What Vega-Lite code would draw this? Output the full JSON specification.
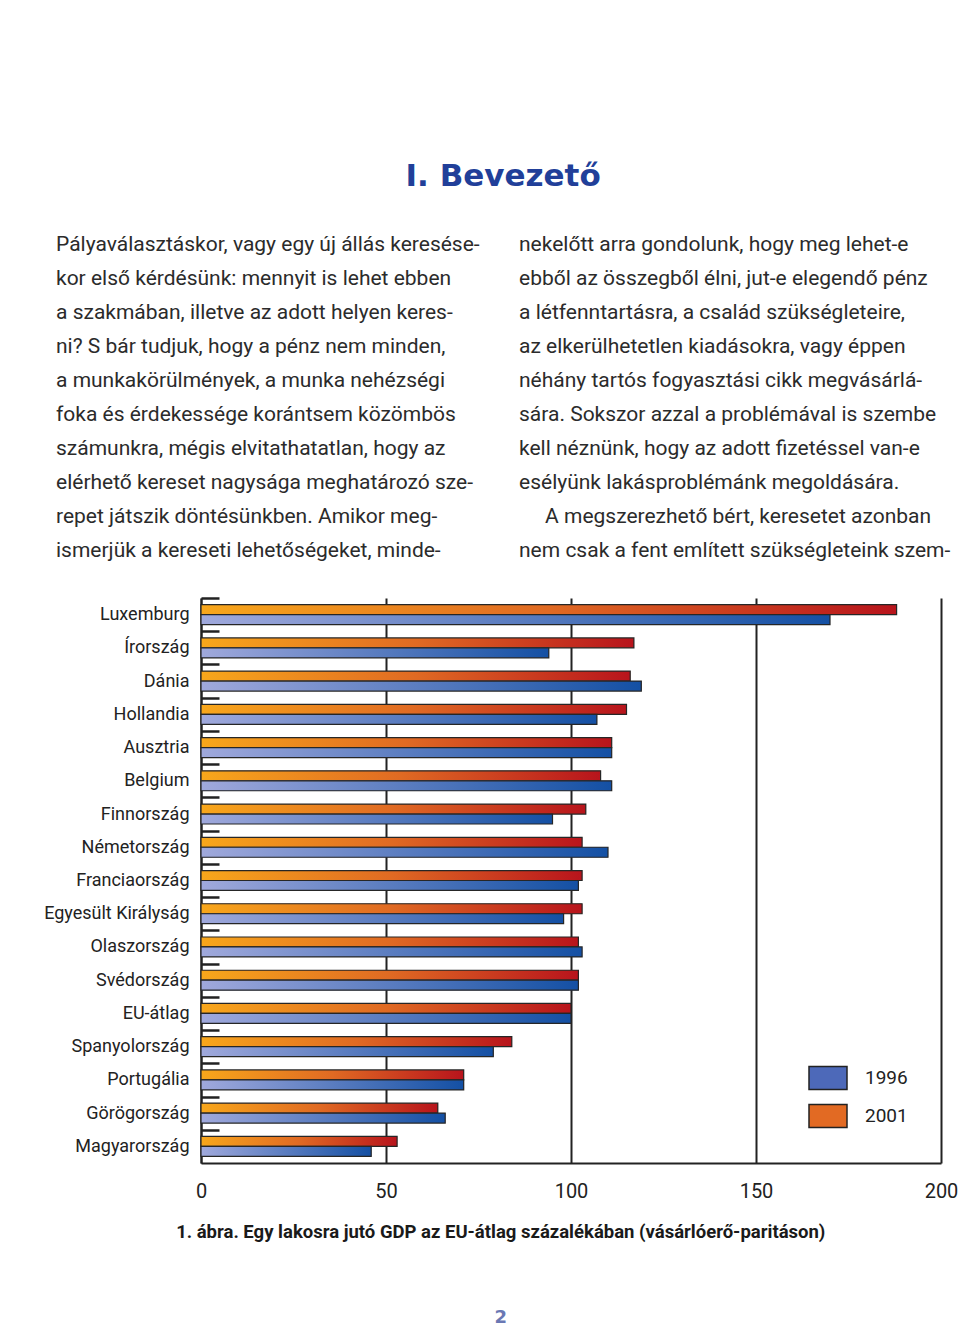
{
  "$schema": "https://vega.github.io/schema/vega-lite/v6.json",
  "background": "white",
  "padding": {"left": 43, "top": 161, "right": 0, "bottom": 0},
  "title": {"text": "2", "orient": "bottom", "anchor": "middle", "frame": "bounds", "baseline": "middle", "offset": 76, "font": "DejaVu Sans", "fontWeight": "bold", "fontSize": 18, "color": "#6a78b4"},
  "columns": 1,
  "align": "none",
  "spacing": 28,
  "concat": [
    {
      "width": 745,
      "height": 340,
      "title": {"text": "I. Bevezető", "anchor": "middle", "frame": "bounds", "baseline": "alphabetic", "offset": 11, "font": "DejaVu Sans", "fontWeight": "bold", "fontSize": 31, "color": "#213f99"},
      "data": {"values": [
        {"col": "L", "line": 1, "text": "Pályaválasztáskor, vagy egy új állás keresése-"},
        {"col": "L", "line": 2, "text": "kor első kérdésünk: mennyit is lehet ebben"},
        {"col": "L", "line": 3, "text": "a szakmában, illetve az adott helyen keres-"},
        {"col": "L", "line": 4, "text": "ni? S bár tudjuk, hogy a pénz nem minden,"},
        {"col": "L", "line": 5, "text": "a munkakörülmények, a munka nehézségi"},
        {"col": "L", "line": 6, "text": "foka és érdekessége korántsem közömbös"},
        {"col": "L", "line": 7, "text": "számunkra, mégis elvitathatatlan, hogy az"},
        {"col": "L", "line": 8, "text": "elérhető kereset nagysága meghatározó sze-"},
        {"col": "L", "line": 9, "text": "repet játszik döntésünkben. Amikor meg-"},
        {"col": "L", "line": 10, "text": "ismerjük a kereseti lehetőségeket, minde-"},
        {"col": "R", "line": 1, "text": "nekelőtt arra gondolunk, hogy meg lehet-e"},
        {"col": "R", "line": 2, "text": "ebből az összegből élni, jut-e elegendő pénz"},
        {"col": "R", "line": 3, "text": "a létfenntartásra, a család szükségleteire,"},
        {"col": "R", "line": 4, "text": "az elkerülhetetlen kiadásokra, vagy éppen"},
        {"col": "R", "line": 5, "text": "néhány tartós fogyasztási cikk megvásárlá-"},
        {"col": "R", "line": 6, "text": "sára. Sokszor azzal a problémával is szembe"},
        {"col": "R", "line": 7, "text": "kell néznünk, hogy az adott fizetéssel van-e"},
        {"col": "R", "line": 8, "text": "esélyünk lakásproblémánk megoldására."},
        {"col": "R", "line": 9, "text": "\u200b\u00a0\u00a0\u00a0\u00a0\u00a0A megszerezhető bért, keresetet azonban"},
        {"col": "R", "line": 10, "text": "nem csak a fent említett szükségleteink szem-"}
      ]},
      "mark": {"type": "text", "align": "left", "baseline": "middle", "dx": -145, "fontSize": 21, "font": "Roboto", "color": "#2b2b2b"},
      "encoding": {
        "x": {"field": "col", "type": "nominal", "bandPosition": 0, "scale": {"type": "band", "paddingInner": 0.391, "paddingOuter": 0}, "axis": null},
        "y": {"field": "line", "type": "ordinal", "scale": {"type": "band", "paddingInner": 0, "paddingOuter": 0}, "axis": null},
        "text": {"field": "text"}
      }
    },
    {
      "width": 740,
      "height": 565,
      "title": {"text": "1. ábra. Egy lakosra jutó GDP az EU-átlag százalékában (vásárlóerő-paritáson)", "orient": "bottom", "anchor": "middle", "frame": "bounds", "baseline": "middle", "offset": 31, "font": "Roboto", "fontWeight": "bold", "fontSize": 18.5, "color": "#1a1a1a"},
      "data": {"values": [
        {"country": "Luxemburg", "year": "2001", "value": 188},
        {"country": "Luxemburg", "year": "1996", "value": 170},
        {"country": "Írország", "year": "2001", "value": 117},
        {"country": "Írország", "year": "1996", "value": 94},
        {"country": "Dánia", "year": "2001", "value": 116},
        {"country": "Dánia", "year": "1996", "value": 119},
        {"country": "Hollandia", "year": "2001", "value": 115},
        {"country": "Hollandia", "year": "1996", "value": 107},
        {"country": "Ausztria", "year": "2001", "value": 111},
        {"country": "Ausztria", "year": "1996", "value": 111},
        {"country": "Belgium", "year": "2001", "value": 108},
        {"country": "Belgium", "year": "1996", "value": 111},
        {"country": "Finnország", "year": "2001", "value": 104},
        {"country": "Finnország", "year": "1996", "value": 95},
        {"country": "Németország", "year": "2001", "value": 103},
        {"country": "Németország", "year": "1996", "value": 110},
        {"country": "Franciaország", "year": "2001", "value": 103},
        {"country": "Franciaország", "year": "1996", "value": 102},
        {"country": "Egyesült Királyság", "year": "2001", "value": 103},
        {"country": "Egyesült Királyság", "year": "1996", "value": 98},
        {"country": "Olaszország", "year": "2001", "value": 102},
        {"country": "Olaszország", "year": "1996", "value": 103},
        {"country": "Svédország", "year": "2001", "value": 102},
        {"country": "Svédország", "year": "1996", "value": 102},
        {"country": "EU-átlag", "year": "2001", "value": 100},
        {"country": "EU-átlag", "year": "1996", "value": 100},
        {"country": "Spanyolország", "year": "2001", "value": 84},
        {"country": "Spanyolország", "year": "1996", "value": 79},
        {"country": "Portugália", "year": "2001", "value": 71},
        {"country": "Portugália", "year": "1996", "value": 71},
        {"country": "Görögország", "year": "2001", "value": 64},
        {"country": "Görögország", "year": "1996", "value": 66},
        {"country": "Magyarország", "year": "2001", "value": 53},
        {"country": "Magyarország", "year": "1996", "value": 46}
      ]},
      "encoding": {
        "x": {"field": "value", "type": "quantitative", "scale": {"domain": [0, 200], "nice": false},
          "axis": {"title": null, "values": [0, 50, 100, 150, 200], "grid": true, "gridColor": "#222", "gridWidth": 2, "gridOpacity": 1, "ticks": false, "domainColor": "#222", "domainWidth": 2, "labelFlush": false, "labelFontSize": 20, "labelFont": "Roboto", "labelColor": "#222", "labelPadding": 18}},
        "y": {"field": "country", "type": "nominal", "sort": null, "scale": {"paddingInner": 0.4, "paddingOuter": 0.2},
          "axis": {"title": null, "domainColor": "#222", "domainWidth": 2, "tickColor": "#222", "tickWidth": 2.5, "tickSize": -18, "tickOffset": -16.62, "labelOffset": 16.62, "labelPadding": 30, "labelFontSize": 18, "labelFont": "Roboto", "labelColor": "#222"}},
        "yOffset": {"field": "year", "type": "nominal", "scale": {"domain": ["2001", "1996"], "paddingInner": 0, "paddingOuter": 0}}
      },
      "layer": [
        {
          "mark": {"type": "bar"},
          "encoding": {
            "color": {"field": "year", "type": "nominal", "scale": {"domain": ["1996", "2001"], "range": ["#4d69b9", "#e26a23"]},
              "legend": {"orient": "none", "legendX": 607, "legendY": 830, "title": null, "padding": 0, "rowPadding": 3,
                "symbolType": "M-1,-0.6H1V0.6H-1Z", "symbolSize": 1444, "symbolStrokeColor": "#222", "symbolStrokeWidth": 1.5, "symbolOpacity": 1,
                "labelFontSize": 19, "labelFont": "Roboto", "labelColor": "#222", "labelOffset": 17}
            }
          }
        },
        {
          "mark": {"type": "bar", "stroke": "#262626", "strokeWidth": 1.2},
          "encoding": {
            "fill": {
              "condition": {"test": {"field": "year", "equal": "1996"}, "value": {"gradient": "linear", "x1": 0, "y1": 0, "x2": 1, "y2": 0, "stops": [{"offset": 0, "color": "#a0a9dc"}, {"offset": 1, "color": "#1450a4"}]}},
              "value": {"gradient": "linear", "x1": 0, "y1": 0, "x2": 1, "y2": 0, "stops": [{"offset": 0, "color": "#f8a71b"}, {"offset": 0.5, "color": "#e06a23"}, {"offset": 1, "color": "#b8141c"}]}
            }
          }
        }
      ]
    }
  ],
  "config": {"view": {"stroke": null}, "font": "Roboto"}
}
